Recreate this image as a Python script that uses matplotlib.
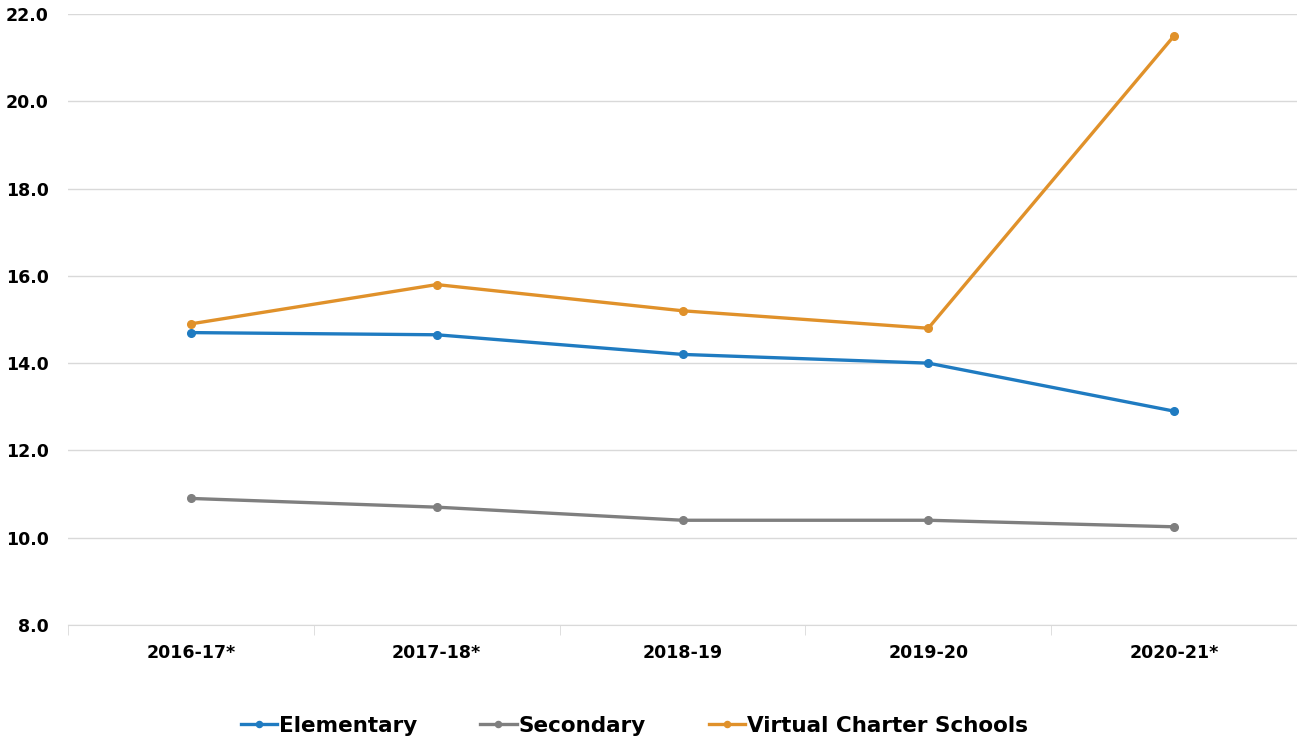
import numpy as np
import matplotlib.pyplot as plt
from matplotlib.ticker import FixedLocator, MultipleLocator

years = ['2016-17*', '2017-18*', '2018-19', '2019-20', '2020-21*']
elementary = [14.7, 14.65, 14.2, 14.0, 12.9]
secondary = [10.9, 10.7, 10.4, 10.4, 10.25]
virtual = [14.9, 15.8, 15.2, 14.8, 21.5]

plt.rcParams['font.family'] = ['DejaVu Sans']
plt.rcParams['font.weight'] = 'bold'

fig = plt.figure(figsize=(12.97, 7.38), dpi=100)
ax = fig.add_axes([68/1297, 113/738, 1229/1297, 611/738])

x = np.arange(len(years))
ax.plot(x, elementary, color='#1f7bc1', lw=2.4, marker='o', ms=5.5, label='Elementary')
ax.plot(x, secondary, color='#7f7f7f', lw=2.4, marker='o', ms=5.5, label='Secondary')
ax.plot(x, virtual, color='#e0912a', lw=2.4, marker='o', ms=5.5, label='Virtual Charter Schools')

ax.set_xlim(-0.5, len(years) - 0.5)
ax.set_ylim(8, 22)
ax.yaxis.set_major_locator(MultipleLocator(2))
ax.yaxis.set_major_formatter(plt.FuncFormatter(lambda v, p: f'{v:.1f}'))
ax.grid(axis='y', color='#d9d9d9', lw=1)
ax.set_axisbelow(True)

ax.set_xticks(x)
ax.set_xticklabels(years)
ax.xaxis.set_minor_locator(FixedLocator(np.arange(len(years) + 1) - 0.5))
ax.tick_params(axis='x', which='major', length=0, pad=14, labelsize=12.5)
ax.tick_params(axis='x', which='minor', length=7, color='#d9d9d9')
ax.tick_params(axis='y', length=0, pad=14, labelsize=12.5)

for s in ['top', 'right', 'left']:
    ax.spines[s].set_visible(False)
ax.spines['bottom'].set_color('#d9d9d9')

leg = ax.legend(loc='center', bbox_to_anchor=(0.5 - 48/1229, -0.165), ncol=3, frameon=False,
                fontsize=15.5, handlelength=1.7, handletextpad=0.1, columnspacing=2.9,
                markerscale=0.8)
for t in leg.get_texts():
    t.set_fontweight('bold')

fig.savefig('out.png', dpi=100)
